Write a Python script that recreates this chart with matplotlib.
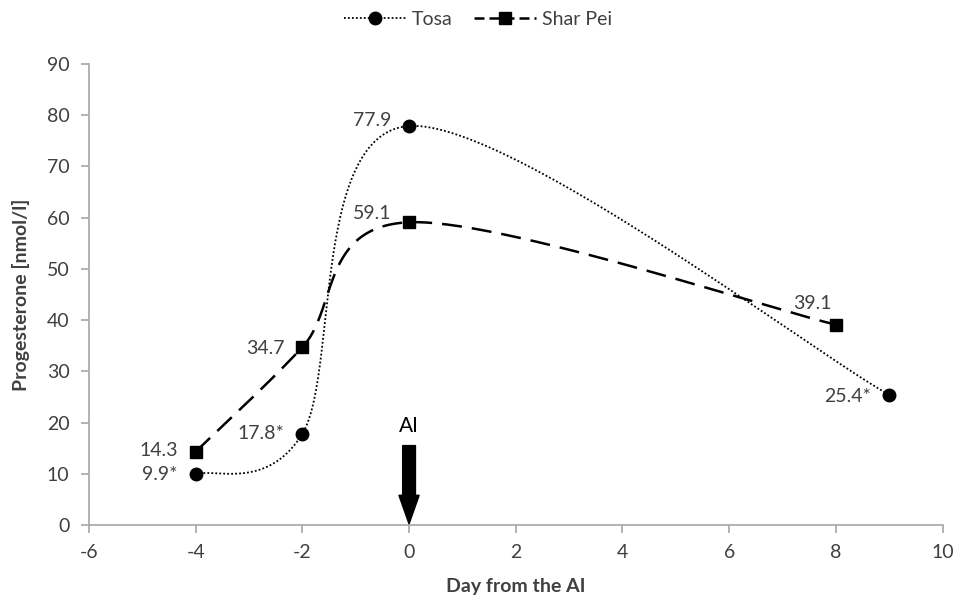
import matplotlib.pyplot as plt
import numpy as np
from matplotlib.patches import FancyArrow

plt.rcParams['font.family'] = ['Lato', 'DejaVu Sans']
plt.rcParams['axes.unicode_minus'] = False

days_tosa = [-4, -2, 0, 9]
tosa = [9.9, 17.8, 77.9, 25.4]
tosa_labels = ['9.9*', '17.8*', '77.9', '25.4*']

days_shar = [-4, -2, 0, 8]
shar = [14.3, 34.7, 59.1, 39.1]
shar_labels = ['14.3', '34.7', '59.1', '39.1']

TXT = '#404040'
AX = '#a6a6a6'
FS = 14


def smooth(xs, ys, n=60):
    # Excel-like smoothed line: cubic Bezier segments, Catmull-Rom tangents
    p = np.column_stack([xs, ys]).astype(float)
    out = []
    for i in range(len(p) - 1):
        p0 = p[i - 1] if i > 0 else p[i]
        p3 = p[i + 2] if i + 2 < len(p) else p[i + 1]
        c1 = p[i] + (p[i + 1] - p0) / 6
        c2 = p[i + 1] - (p3 - p[i]) / 6
        t = np.linspace(0, 1, n)[:, None]
        seg = ((1 - t) ** 3 * p[i] + 3 * (1 - t) ** 2 * t * c1
               + 3 * (1 - t) * t ** 2 * c2 + t ** 3 * p[i + 1])
        out.append(seg)
    s = np.vstack(out)
    return s[:, 0], s[:, 1]


fig = plt.figure(figsize=(9.56, 6.01), dpi=100)
ax = fig.add_axes([0.093, 0.1265, 0.893, 0.767])

sx, sy = smooth(days_tosa, tosa)
ax.plot(sx, sy, color='black', lw=1.3, ls=(0, (1, 1.2)))
ax.plot(days_tosa, tosa, 'o', color='black', ms=9)
hx, hy = smooth(days_shar, shar)
ax.plot(hx, hy, color='black', lw=1.8, ls=(0, (8, 4)))
ax.plot(days_shar, shar, 's', color='black', ms=8.5)

# legend proxies
ax.plot([], [], color='black', lw=1.3, ls=(0, (1, 1.2)), marker='o', ms=9, label='Tosa')
ax.plot([], [], color='black', lw=1.8, ls=(0, (4, 2)), marker='s', ms=8.5, label='Shar Pei')
leg = ax.legend(loc='center', bbox_to_anchor=(0.5, 0.968), bbox_transform=fig.transFigure,
                ncol=2, frameon=False, fontsize=FS, handlelength=3.2,
                columnspacing=1.1, handletextpad=0.3)
for t in leg.get_texts():
    t.set_color(TXT)

# value labels (offsets in points)
t_off = [(-13, 0), (-13, 0), (-13, 4), (-13, -1)]
for x, y, s, (dx, dy) in zip(days_tosa, tosa, tosa_labels, t_off):
    ax.annotate(s, (x, y), xytext=(dx, dy), textcoords='offset points',
                ha='right', va='center', fontsize=FS, color=TXT)
s_off = [(-13, 1), (-13, -1), (-13, 6)]
for x, y, s, (dx, dy) in zip(days_shar[:3], shar[:3], shar_labels[:3], s_off):
    ax.annotate(s, (x, y), xytext=(dx, dy), textcoords='offset points',
                ha='right', va='center', fontsize=FS, color=TXT)
ax.annotate(shar_labels[3], (days_shar[3], shar[3]), xytext=(-17, 15),
            textcoords='offset points', ha='center', va='center', fontsize=FS, color=TXT)

# AI arrow
ax.add_patch(FancyArrow(0, 15.5, 0, -15.3, width=0.24, head_width=0.38,
                        head_length=5.6, length_includes_head=True,
                        color='black', zorder=5))
ax.text(0, 17.3, 'AI', ha='center', va='bottom', fontsize=15, color='black')

ax.set_xlim(-6, 10)
ax.set_ylim(0, 90)
ax.set_xticks(np.arange(-6, 11, 2))
ax.set_yticks(np.arange(0, 91, 10))
ax.set_xlabel('Day from the AI', fontsize=FS, fontweight='bold', color=TXT, labelpad=12)
ax.set_ylabel('Progesterone [nmol/l]', fontsize=FS, fontweight='bold', color=TXT, labelpad=12)
ax.tick_params(colors=AX, labelcolor=TXT, labelsize=FS, length=6, width=1.2, direction='out')
ax.tick_params(axis='x', pad=8)
ax.tick_params(axis='y', pad=8)
for side in ['top', 'right']:
    ax.spines[side].set_visible(False)
for side in ['left', 'bottom']:
    ax.spines[side].set_color(AX)
    ax.spines[side].set_linewidth(1.2)

fig.savefig('out.png', dpi=100)
